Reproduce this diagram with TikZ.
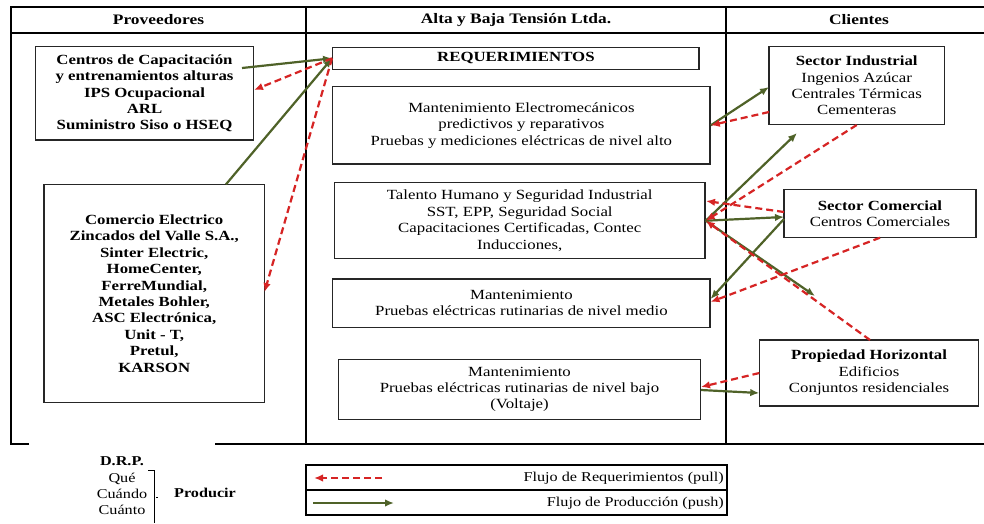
\documentclass[tikz,border=0pt]{standalone}
\usepackage{fontspec}
\setmainfont{Liberation Serif}[FakeStretch=1.2]
\usetikzlibrary{arrows.meta,calc}
\definecolor{pushgreen}{RGB}{79,98,40}
\definecolor{pullred}{RGB}{214,36,36}
\newcommand\txtsize{\fontsize{14}{16.4}\selectfont}
\newcommand\headsize{\fontsize{14.5}{17}\selectfont}
\newcommand\smallsize{\fontsize{13.5}{16.3}\selectfont}
\tikzset{
  frame/.style={line width=2.2pt},
  box/.style={draw=black!85, line width=1.4pt, inner sep=0pt, align=center, font=\txtsize},
  push/.style={draw=pushgreen, line width=2.2pt, -{Latex[length=9pt,width=7.5pt]}},
  pull/.style={draw=pullred, line width=2.2pt, dash pattern=on 7pt off 4pt, -{Latex[length=9pt,width=7.5pt]}},
  head/.style={font=\headsize\bfseries, inner sep=0pt},
}
\begin{document}
\begin{tikzpicture}[x=1pt,y=-1pt]
\useasboundingbox[fill=white] (0,0) rectangle (984,523);

% swimlane frame
\draw[frame] (29,444) -- (11,444) -- (11,7) -- (984,7);
\draw[frame] (11,33) -- (984,33);
\draw[frame] (215,444) -- (984,444);
\draw[frame] (306,7) -- (306,444);
\draw[frame] (726,7) -- (726,444);

\node[head] (hprov) at (158.5,20) {Proveedores};
\node[head] (halta) at (516,20) {Alta y Baja Tensión Ltda.};
\node[head] (hcli)  at (859,20) {Clientes};

% suppliers
\node[box, font=\txtsize\bfseries, minimum width=217.6pt, minimum height=93.3pt] (box1) at (144.5,93.3)
  {Centros de Capacitación\\y entrenamientos alturas\\IPS Ocupacional\\ARL\\Suministro Siso o HSEQ};
\node[box, font=\txtsize\bfseries, minimum width=220.3pt, minimum height=218.4pt] (box2) at (154.2,293.5)
  {Comercio Electrico\\Zincados del Valle S.A.,\\Sinter Electric,\\HomeCenter,\\FerreMundial,\\Metales Bohler,\\ASC Electrónica,\\Unit - T,\\Pretul,\\KARSON};

% company
\node[box, font=\txtsize\bfseries, minimum width=366.3pt, minimum height=22pt] (req) at (515.9,58.3) {REQUERIMIENTOS};
\node[box, minimum width=377.3pt, minimum height=77.3pt] (m1) at (521.4,125.3)
  {Mantenimiento Electromecánicos\\predictivos y reparativos\\Pruebas y mediciones eléctricas de nivel alto};
\node[box, minimum width=370.7pt, minimum height=76pt] (m2) at (519.7,220.7)
  {Talento Humano y Seguridad Industrial\\SST, EPP, Seguridad Social\\Capacitaciones Certificadas, Contec\\Inducciones,};
\node[box, minimum width=377.3pt, minimum height=48.3pt] (m3) at (521.4,303.2)
  {Mantenimiento\\Pruebas eléctricas rutinarias de nivel medio};
\node[box, minimum width=362.4pt, minimum height=60pt] (m4) at (519.5,389.3)
  {Mantenimiento\\Pruebas eléctricas rutinarias de nivel bajo\\(Voltaje)};

% clients
\node[box, minimum width=175.3pt, minimum height=77.6pt] (c1) at (856.7,85.5)
  {\textbf{Sector Industrial}\\Ingenios Azúcar\\Centrales Térmicas\\Cementeras};
\node[box, minimum width=192pt, minimum height=48.4pt] (c2) at (880,213.5)
  {\textbf{Sector Comercial}\\Centros Comerciales};
\node[box, minimum width=219.4pt, minimum height=66pt] (c3) at (869,373)
  {\textbf{Propiedad Horizontal}\\Edificios\\Conjuntos residenciales};

% connector end points
\coordinate (g1s) at (242,68);
\coordinate (g2s) at (226,184.3);
\coordinate (r1e) at (254,90);
\coordinate (r2e) at (264.5,292);
\coordinate (r3s) at (769,112);
\coordinate (g3e) at (769,87);
\coordinate (g4e) at (797,133);
\coordinate (g5e) at (784,217);
\coordinate (r5s) at (784,212);
\coordinate (r5e) at (706,201);
\coordinate (g6s) at (784,219);
\coordinate (g6e) at (710.5,299);
\coordinate (g7e) at (815,296);
\coordinate (r6s) at (870,340);
\coordinate (r7s) at (880,237.7);
\coordinate (r7e) at (710.5,302);
\coordinate (r8s) at (759.3,373);
\coordinate (r8e) at (701,387);
\coordinate (g8s) at (701,390);
\coordinate (g8e) at (759.3,393);

% production flow (push)
\draw[push] (g1s) -- (req.west);
\draw[push] (g2s) -- (req.west);
\draw[push] (m1.east) -- (g3e);
\draw[push] (m2.east) -- (g4e);
\draw[push] (m2.east) -- (g5e);
\draw[push] (g6s) -- (g6e);
\draw[push] (m2.east) -- (g7e);
\draw[push] (g8s) -- (g8e);

% requirement flow (pull)
\draw[pull] (req.west) -- (r1e);
\draw[pull] (req.west) -- (r2e);
\draw[pull] (r3s) -- (m1.east);
\draw[pull] (c1.south) -- (m2.east);
\draw[pull] (r5s) -- (r5e);
\draw[pull] (r6s) -- (m2.east);
\draw[pull] (r7s) -- (r7e);
\draw[pull] (r8s) -- (r8e);

% legend
\draw[frame] (306,465) rectangle (727,515);
\draw[frame] (306,490) -- (727,490);
\coordinate (lr1) at (382,478);
\coordinate (lr2) at (314,478);
\coordinate (lg1) at (313,503);
\coordinate (lg2) at (394,503);
\draw[pull] (lr1) -- (lr2);
\draw[push] (lg1) -- (lg2);
\node[font=\smallsize, anchor=east, inner sep=0pt] (lpull) at (724,478) {Flujo de Requerimientos (pull)};
\node[font=\smallsize, anchor=east, inner sep=0pt] (lpush) at (724,503) {Flujo de Producción (push)};

% D.R.P.
\node[font=\smallsize\bfseries, inner sep=0pt] (drp) at (122,461) {D.R.P.};
\node[font=\smallsize, inner sep=0pt, align=center] (drpq) at (122,494)
  {Qué\\Cuándo\\Cuánto};
\draw[line width=0.9pt] (148,470) -- (154,470) -- (154,523);
\draw[line width=0.9pt] (156,497) -- (158,497);
\node[font=\smallsize\bfseries, inner sep=0pt] (prod) at (205,493) {Producir};
\end{tikzpicture}
\end{document}
